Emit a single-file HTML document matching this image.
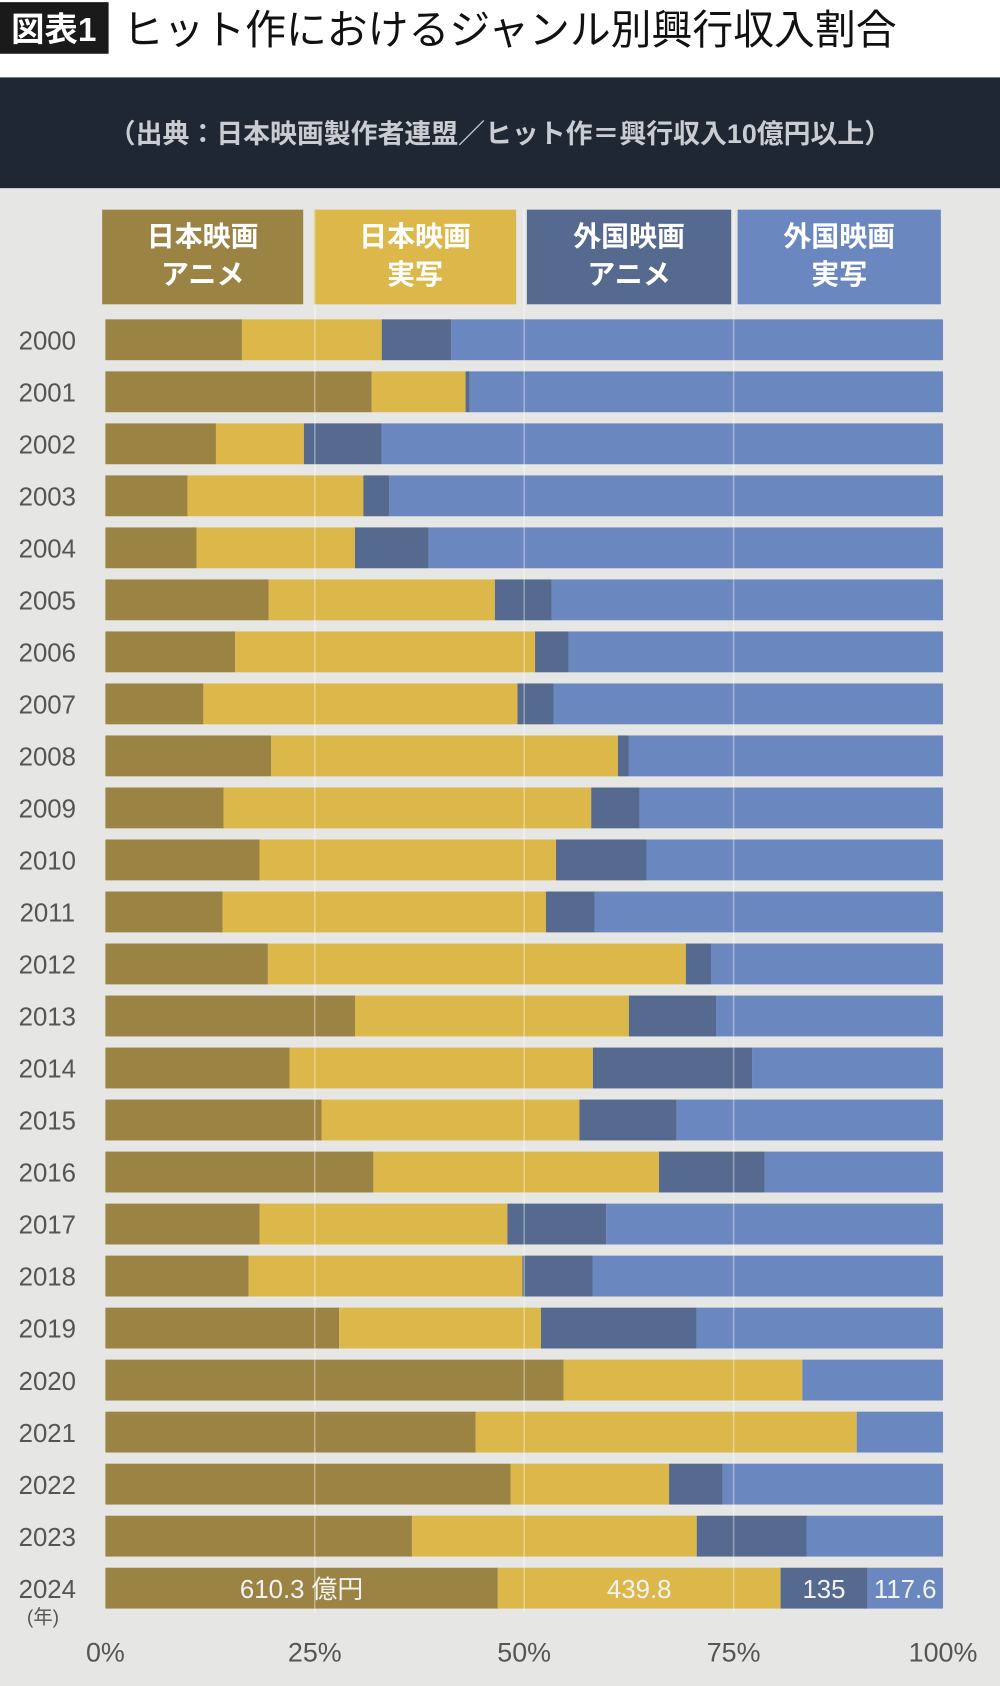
<!DOCTYPE html>
<html><head><meta charset="utf-8"><style>
html,body{margin:0;padding:0;background:#fff;}
svg{display:block;}
text{font-family:"Liberation Sans","Noto Sans CJK JP",sans-serif;}
</style></head><body>
<svg id="chart" width="1000" height="1686" viewBox="0 0 930 1568" preserveAspectRatio="none" xmlns="http://www.w3.org/2000/svg">
<rect x="0" y="0" width="930" height="1568" fill="#ffffff"/>
<rect x="0" y="175" width="930" height="1393" fill="#e6e6e4"/>
<rect x="0" y="2" width="101" height="48" fill="#1a1a1a"/>
<text x="50" y="38" text-anchor="middle" font-size="31" font-weight="bold" fill="#fff">図表1</text>
<text x="114" y="41" font-size="38" fill="#111">ヒット作におけるジャンル別興行収入割合</text>
<rect x="0" y="72" width="930" height="103" fill="#1f2733"/>
<text x="465" y="133" text-anchor="middle" font-size="25" font-weight="bold" fill="#c9ccd1">（出典：日本映画製作者連盟／ヒット作＝興行収入10億円以上）</text>
<g id="legend"></g>
<g id="grid"></g>
<g id="bars"></g>
<g id="labels"></g>
</svg>
<script>
const years=["2000","2001","2002","2003","2004","2005","2006","2007","2008","2009","2010","2011","2012","2013","2014","2015","2016","2017","2018","2019","2020","2021","2022","2023","2024"];
const jpAnime=[16.3,31.8,13.2,9.8,10.9,19.5,15.5,11.7,19.8,14.1,18.4,14.0,19.4,29.8,22.0,25.8,32.0,18.4,17.1,27.9,54.7,44.2,48.4,36.6,610.3];
const jpLive=[16.7,11.2,10.5,21.0,18.9,27.0,35.8,37.5,41.4,43.9,35.4,38.6,49.9,32.7,36.2,30.8,34.1,29.6,32.7,24.1,28.5,45.5,18.9,34.0,439.8];
const fgAnime=[8.3,0.5,9.3,3.1,8.8,6.8,4.0,4.3,1.3,5.8,10.8,5.8,3.0,10.4,19.0,11.6,12.6,11.8,8.4,18.6,0,0,6.4,13.1,135];
const fgLive=[58.7,56.5,67.0,66.1,61.4,46.7,44.7,46.5,37.5,36.2,35.4,41.6,27.7,27.1,22.8,31.8,21.3,40.2,41.8,29.4,16.8,10.3,26.3,16.3,117.6];
const valueLabels=["610.3 億円","439.8","135","117.6"];
const legendNames=[["日本映画","アニメ"],["日本映画","実写"],["外国映画","アニメ"],["外国映画","実写"]];
const xTicks=[0,25,50,75,100];
const colors=["#9b8443","#dcb84a","#56698e","#6a88bf"];
const NS="http://www.w3.org/2000/svg";
const X0=98,X1=877;
const xs=p=>X0+(X1-X0)*p/100;
const ys=i=>316+i*48.375;
const BH=38;
function mk(tag,attrs,parent,txt){const e=document.createElementNS(NS,tag);for(const k in attrs)e.setAttribute(k,attrs[k]);if(txt!==undefined)e.textContent=txt;parent.appendChild(e);return e;}
const legend=document.getElementById('legend'),grid=document.getElementById('grid'),bars=document.getElementById('bars'),labels=document.getElementById('labels');
const lx=[[95,282],[292,480],[490,680],[686,875]];
legendNames.forEach((n,i)=>{
  const r=mk('rect',{x:lx[i][0],y:195,width:lx[i][1]-lx[i][0],height:88,fill:colors[i]},legend);
  
  
  const cx=(lx[i][0]+lx[i][1])/2;
  const t=mk('text',{x:cx,y:229,'text-anchor':'middle','font-size':26,'font-weight':'bold',fill:'#fff'},legend,n[0]);
  
  
  const t2=mk('text',{x:cx,y:264,'text-anchor':'middle','font-size':26,'font-weight':'bold',fill:'#fff'},legend,n[1]);
  
  
});
years.forEach((y,i)=>{
  const vals=[jpAnime[i],jpLive[i],fgAnime[i],fgLive[i]];
  const tot=vals.reduce((a,b)=>a+b,0);
  let acc=0;
  vals.forEach((v,k)=>{
    const p0=acc/tot*100, p1=(acc+v)/tot*100; acc+=v;
    if(v<=0)return;
    const r=mk('rect',{x:xs(p0),y:ys(i)-BH/2,width:xs(p1)-xs(p0),height:BH,fill:colors[k]},bars);
    
    
    if(i===years.length-1){
      const t=mk('text',{x:(xs(p0)+xs(p1))/2,y:ys(i)+9,'text-anchor':'middle','font-size':24,fill:'#f2f2f2'},labels,valueLabels[k]);
      
      
    }
  });
  const t=mk('text',{x:44,y:ys(i)+9,'text-anchor':'middle','font-size':24,fill:'#555'},labels,y);
  
  
});
const yu=mk('text',{x:40,y:1510,'text-anchor':'middle','font-size':18,fill:'#555'},labels,'(年)');


xTicks.forEach(p=>{
  if(p>0&&p<100){
    const l=mk('line',{x1:xs(p),x2:xs(p),y1:195,y2:1500,stroke:'#ffffff','stroke-opacity':0.35,'stroke-width':1.5},grid);
    
    
  }
  const t=mk('text',{x:xs(p),y:1545,'text-anchor':'middle','font-size':25,fill:'#555'},labels,p+'%');
  
  
});
document.getElementById('bars').after(grid);
</script>
</body></html>
